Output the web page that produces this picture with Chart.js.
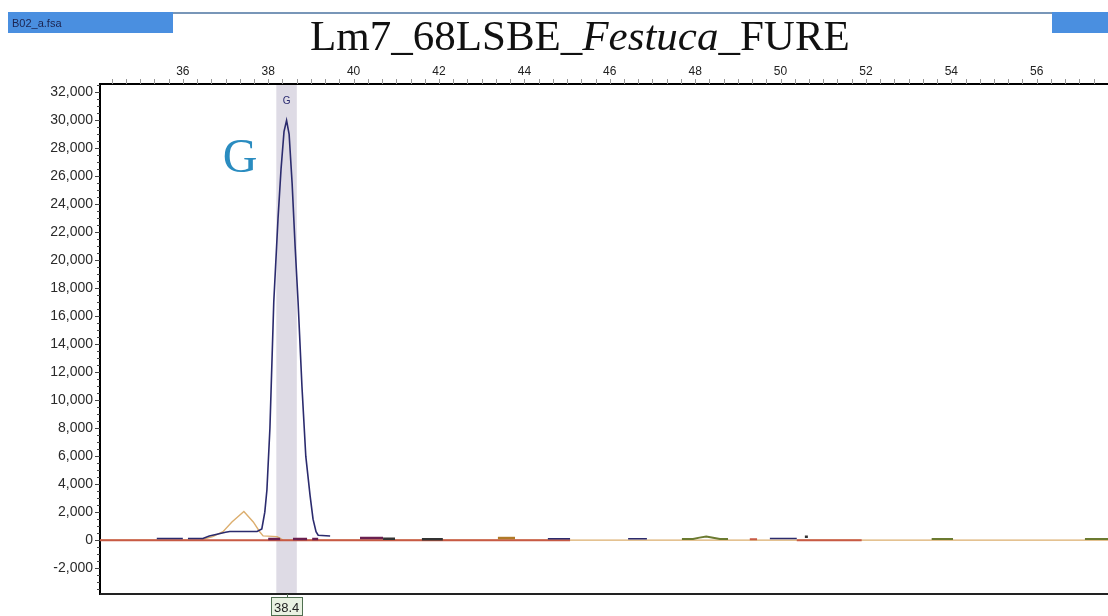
<!DOCTYPE html>
<html>
<head>
<meta charset="utf-8">
<title>Lm7_68LSBE_Festuca_FURE</title>
<script src="https://cdn.jsdelivr.net/npm/chart.js@4.4.1/dist/chart.umd.min.js"></script>
<style>
	html, body { margin: 0; padding: 0; background: #fff; }
	#wrap { position: relative; width: 1108px; height: 616px; }
</style>
</head>
<body>
<div id="wrap"><canvas id="chart" width="1108" height="616"></canvas></div>
<script>
// axis ticks
const xTickValues = [36, 38, 40, 42, 44, 46, 48, 50, 52, 54, 56]
const yTickValues = [-2000, 0, 2000, 4000, 6000, 8000, 10000, 12000, 14000, 16000,
	18000, 20000, 22000, 24000, 26000, 28000, 30000, 32000]

// called peak
const peakSizes = [38.43]
const peakLabels = ['G']
const peakTexts = ['38.4']

// blue dye trace (size in bp, height in RFU), null = gap
const navySizes = [35.39, 36.00, 36.00, 36.12, 36.47, 36.62, 36.80, 37.00, 37.10, 37.74,
	37.85, 37.92, 37.97, 38.04, 38.13, 38.23, 38.30, 38.37, 38.43, 38.49, 38.56, 38.63,
	38.70, 38.79, 38.88, 38.98, 39.05, 39.12, 39.17, 39.45, 39.45, 44.55, 45.07, 45.07,
	46.43, 46.87, 46.87, 49.75, 50.38]
const navyRFU = [120, 120, null, 120, 120, 300, 420, 560, 620, 620,
	800, 2000, 3600, 8000, 17000, 23000, 26500, 29200, 30000, 29000, 25500, 21000,
	17000, 11000, 6000, 3200, 1500, 600, 350, 300, null, 100, 100, null,
	100, 100, null, 120, 120]

// orange (size standard) trace
const orangeSizes = [34.06, 36.40, 36.70, 36.94, 37.15, 37.43, 37.65, 37.80, 37.88, 38.21, 38.35, 57.67]
const orangeRFU = [0, 0, 250, 600, 1300, 2050, 1300, 600, 300, 250, 0, 0]

// red trace
const redSizes = [34.06, 45.07, 45.07, 49.28, 49.45, 49.45, 50.38, 51.90]
const redRFU = [0, 0, null, 60, 60, null, 0, 0]

// small noise pieces on the baseline
const maroonSizes = [38.00, 38.28, 38.28, 38.58, 38.91, 38.91, 39.03, 39.17, 39.17, 40.15, 40.69]
const maroonRFU = [80, 80, null, 80, 80, null, 80, 80, null, 150, 150]
const darkSizes = [40.69, 40.97, 40.97, 41.60, 42.09, 42.09, 50.57, 50.64]
const darkRFU = [100, 100, null, 60, 60, null, 250, 250]
const brownSizes = [43.38, 43.78]
const brownRFU = [150, 150]
const greenSizes = [47.69, 47.95, 48.10, 48.26, 48.42, 48.58, 48.77, 48.77, 53.54, 54.04, 54.04, 57.13, 57.67]
const greenRFU = [80, 80, 180, 250, 170, 80, 80, null, 80, 80, null, 80, 80]

const toPoints = (xs, ys) => xs.map((x, i) => ({ x: x, y: ys[i] }))

function trace(data, color, width, order) {
	return {
		data: data,
		borderColor: color,
		borderWidth: width,
		pointRadius: 0,
		tension: 0,
		spanGaps: false,
		fill: false,
		order: order,
	}
}

const sans = '"Liberation Sans", Arial, sans-serif'
const serif = '"Liberation Serif", "Times New Roman", serif'

const decorPlugin = {
	id: 'decor',
	beforeDatasetsDraw(chart) {
		const { ctx, chartArea, scales } = chart
		const x = scales.x
		ctx.save()
		// highlight band behind the called peak
		ctx.fillStyle = '#dedbe5'
		peakSizes.forEach(p => {
			const l = x.getPixelForValue(p - 0.24)
			const r = x.getPixelForValue(p + 0.24)
			ctx.fillRect(l, chartArea.top + 1, r - l, chartArea.bottom - chartArea.top - 1)
		})
		ctx.restore()
	},
	afterDraw(chart) {
		const { ctx, chartArea, scales } = chart
		const x = scales.x
		const y = scales.y
		ctx.save()

		// y ticks, major + minor
		ctx.strokeStyle = '#444'
		ctx.lineWidth = 1
		for (let v = -3500; v <= 32500; v += 500) {
			const py = Math.round(y.getPixelForValue(v)) + 0.5
			const major = v % 2000 === 0
			ctx.beginPath()
			ctx.moveTo(chartArea.left - (major ? 5 : 3), py)
			ctx.lineTo(chartArea.left, py)
			ctx.stroke()
		}

		// x ticks above top border
		ctx.strokeStyle = '#999'
		for (let v = 34 + 1 / 3; v < 57.7; v += 1 / 3) {
			const px = Math.round(x.getPixelForValue(v)) + 0.5
			ctx.beginPath()
			ctx.moveTo(px, chartArea.top - 5)
			ctx.lineTo(px, chartArea.top)
			ctx.stroke()
		}

		// bottom border
		ctx.strokeStyle = '#222'
		ctx.lineWidth = 2
		ctx.beginPath()
		ctx.moveTo(chartArea.left, chartArea.bottom)
		ctx.lineTo(chartArea.right, chartArea.bottom)
		ctx.stroke()

		// peak labels
		peakSizes.forEach((p, i) => {
			const px = x.getPixelForValue(p)
			ctx.fillStyle = '#2a2a70'
			ctx.font = '10px ' + sans
			ctx.textAlign = 'center'
			ctx.textBaseline = 'alphabetic'
			ctx.fillText(peakLabels[i], px, 104)

			// size box under the axis
			ctx.strokeStyle = '#4f6f50'
			ctx.lineWidth = 1
			ctx.beginPath()
			ctx.moveTo(Math.round(px) + 0.5, chartArea.bottom)
			ctx.lineTo(Math.round(px) + 0.5, chartArea.bottom + 3)
			ctx.stroke()
			ctx.fillStyle = '#e9f2e2'
			ctx.fillRect(Math.round(px) - 16, 597, 31, 19)
			ctx.strokeRect(Math.round(px) - 15.5, 597.5, 31, 18)
			ctx.fillStyle = '#222'
			ctx.font = '13px ' + sans
			ctx.fillText(peakTexts[i], px, 612)
		})

		// allele call
		ctx.fillStyle = '#2a8cc0'
		ctx.font = '48px ' + serif
		ctx.textAlign = 'center'
		ctx.fillText('G', 240, 172)

		// header strip
		ctx.strokeStyle = '#7896b8'
		ctx.lineWidth = 2
		ctx.beginPath()
		ctx.moveTo(170, 13)
		ctx.lineTo(1055, 13)
		ctx.stroke()
		ctx.fillStyle = '#4a8fe0'
		ctx.fillRect(8, 12, 165, 21)
		ctx.fillRect(1052, 12, 56, 21)
		ctx.fillStyle = '#1c2450'
		ctx.font = '11px ' + sans
		ctx.textAlign = 'left'
		ctx.fillText('B02_a.fsa', 12, 27)

		// title with italic genus
		ctx.fillStyle = '#111'
		let tx = 310
		const parts = [['Lm7_68LSBE_', ''], ['Festuca', 'italic '], ['_FURE', '']]
		parts.forEach(([t, style]) => {
			ctx.font = style + '43px ' + serif
			ctx.fillText(t, tx, 50)
			tx += ctx.measureText(t).width
		})

		ctx.restore()
	},
}

const ctx = document.getElementById('chart').getContext('2d')
const chart = new Chart(ctx, {
	type: 'line',
	data: {
		datasets: [
			trace(toPoints(navySizes, navyRFU), '#2b2b6e', 1.6, 0),
			trace(toPoints(maroonSizes, maroonRFU), '#6a2050', 2.5, 1),
			trace(toPoints(darkSizes, darkRFU), '#333333', 2.5, 1),
			trace(toPoints(brownSizes, brownRFU), '#b07a28', 2.5, 1),
			trace(toPoints(greenSizes, greenRFU), '#6b7a30', 2, 1),
			trace(toPoints(redSizes, redRFU), '#c85a44', 2, 2),
			trace(toPoints(orangeSizes, orangeRFU), '#dcae6e', 1.4, 3),
		],
	},
	options: {
		responsive: false,
		animation: false,
		devicePixelRatio: 1,
		layout: { padding: { left: 0, right: 0, top: 0, bottom: 22 } },
		plugins: {
			legend: { display: false },
			tooltip: { enabled: false },
		},
		scales: {
			x: {
				type: 'linear',
				position: 'top',
				min: 34.06,
				max: 57.67,
				afterBuildTicks: scale => {
					scale.ticks = xTickValues.map(v => ({ value: v }))
				},
				afterFit: scale => {
					scale.height = 84
				},
				grid: { display: false, drawTicks: false },
				border: { display: true, color: '#000', width: 2 },
				ticks: {
					color: '#222',
					font: { family: sans, size: 12 },
					padding: 5,
					maxRotation: 0,
					autoSkip: false,
				},
			},
			y: {
				type: 'linear',
				min: -3850,
				max: 32600,
				afterBuildTicks: scale => {
					scale.ticks = yTickValues.map(v => ({ value: v }))
				},
				afterFit: scale => {
					scale.width = 100
				},
				grid: { display: false, drawTicks: false },
				border: { display: true, color: '#000', width: 2 },
				ticks: {
					color: '#2a2a2a',
					font: { family: sans, size: 14 },
					padding: 7,
					callback: v => v.toLocaleString('en-US'),
				},
			},
		},
	},
	plugins: [decorPlugin],
})
</script>
</body>
</html>
